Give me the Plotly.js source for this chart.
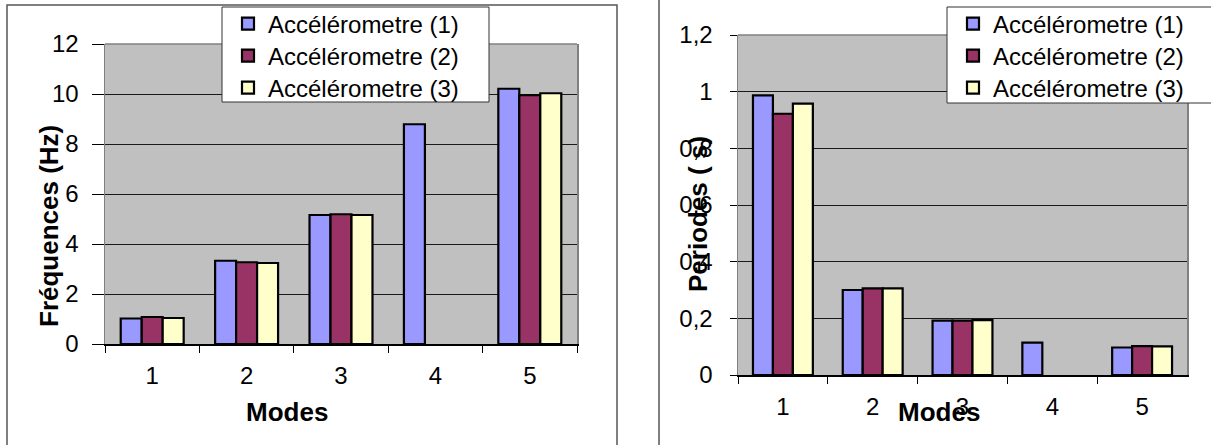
<!DOCTYPE html>
<html>
<head>
<meta charset="utf-8">
<script src="https://cdn.plot.ly/plotly-3.0.1.min.js"></script>
<style>html,body{margin:0;padding:0;background:#fff;}#chart{width:1211px;height:445px;}</style>
</head>
<body>
<div id="chart"></div>
<script>
// ---- data ----
const modes = ["1", "2", "3", "4", "5"];
const seriesNames = ["Accélérometre (1)", "Accélérometre (2)", "Accélérometre (3)"];
const freqAcc1 = [1.02, 3.33, 5.16, 8.79, 10.21];
const freqAcc2 = [1.08, 3.27, 5.19, null, 9.95];
const freqAcc3 = [1.04, 3.24, 5.16, null, 10.03];
const perAcc1 = [0.987, 0.300, 0.192, 0.114, 0.097];
const perAcc2 = [0.922, 0.306, 0.192, null, 0.102];
const perAcc3 = [0.958, 0.306, 0.194, null, 0.101];
const freqTicks = [0, 2, 4, 6, 8, 10, 12];
const perTicks = [0, 0.2, 0.4, 0.6, 0.8, 1, 1.2];
const leftYTitle = "Fréquences (Hz)";
const rightYTitle = "Periodes ( s)";
const xTitle = "Modes";

const colors = ["#9999FF", "#993366", "#FFFFCC"];
const W = 1211, H = 445;
const px = v => v / W;
const py = v => 1 - v / H;
const FONT = "Liberation Sans, Arial, sans-serif";

const freqSeries = [freqAcc1, freqAcc2, freqAcc3];
const perSeries = [perAcc1, perAcc2, perAcc3];
const rowY = [24, 56, 88];
const traces = [];
const legends = {};
function legendName(k) { return k === 0 ? "legend" : "legend" + (k + 1); }
function mkLegend(xLeft, yMid) {
  return {
    x: px(xLeft), y: py(yMid), xanchor: "left", yanchor: "middle",
    bgcolor: "rgba(0,0,0,0)", borderwidth: 0,
    font: {family: FONT, size: 24, color: "#000"},
    itemclick: false, itemdoubleclick: false
  };
}
freqSeries.forEach((vals, i) => {
  const ln = legendName(i);
  legends[ln] = mkLegend(228, rowY[i]);
  traces.push({
    type: "bar", x: modes, y: vals, name: seriesNames[i],
    xaxis: "x", yaxis: "y", legend: ln,
    marker: {color: colors[i], line: {color: "#000", width: 2.2}}
  });
});
perSeries.forEach((vals, i) => {
  const ln = legendName(i + 3);
  legends[ln] = mkLegend(953, rowY[i]);
  traces.push({
    type: "bar", x: modes, y: vals, name: seriesNames[i],
    xaxis: "x2", yaxis: "y2", legend: ln,
    marker: {color: colors[i], line: {color: "#000", width: 2.2}}
  });
});

const xCommon = {
  type: "category", showgrid: false, zeroline: false,
  showline: true, linecolor: "#000", linewidth: 1.5,
  ticks: "outside", tickson: "boundaries", ticklen: 7, tickcolor: "#000", tickwidth: 1,
  ticklabelstandoff: 10,
  tickfont: {family: FONT, size: 24, color: "#000"}, fixedrange: true
};
const yCommon = {
  showgrid: true, gridcolor: "#1a1a1a", gridwidth: 1, zeroline: false,
  showline: true, linecolor: "#808080", linewidth: 1.5, mirror: true,
  ticks: "outside", tickcolor: "#000", tickwidth: 1,
  tickfont: {family: FONT, size: 24, color: "#000"}, fixedrange: true
};

const layout = Object.assign({
  width: W, height: H,
  margin: {l: 0, r: 0, t: 0, b: 0},
  paper_bgcolor: "#fff", plot_bgcolor: "#C0C0C0",
  barmode: "group", bargap: 0.333, bargroupgap: 0,
  separators: ", ",
  showlegend: true,
  font: {family: FONT, color: "#000"},
  xaxis: Object.assign({}, xCommon, {domain: [px(105), px(577)], anchor: "y"}),
  yaxis: Object.assign({}, yCommon, {domain: [py(344), py(44)], anchor: "x",
    range: [0, 12], tickvals: freqTicks, ticklen: 12, ticklabelstandoff: 8}),
  xaxis2: Object.assign({}, xCommon, {domain: [px(738), px(1187)], anchor: "y2"}),
  yaxis2: Object.assign({}, yCommon, {domain: [py(375), py(35)], anchor: "x2",
    range: [0, 1.2], tickvals: perTicks, ticklen: 7, ticklabelstandoff: 12}),
  annotations: [
    {text: "<b>" + leftYTitle + "</b>", xref: "paper", yref: "paper", x: px(49), y: py(226),
     textangle: -90, showarrow: false, xanchor: "center", yanchor: "middle",
     font: {family: FONT, size: 26, color: "#000"}},
    {text: "<b>" + rightYTitle + "</b>", xref: "paper", yref: "paper", x: px(698), y: py(214),
     textangle: -90, showarrow: false, xanchor: "center", yanchor: "middle",
     font: {family: FONT, size: 26, color: "#000"}},
    {text: "<b>" + xTitle + "</b>", xref: "paper", yref: "paper", x: px(287), y: py(412),
     showarrow: false, xanchor: "center", yanchor: "middle",
     font: {family: FONT, size: 26, color: "#000"}},
    {text: "<b>" + xTitle + "</b>", xref: "paper", yref: "paper", x: px(939), y: py(412),
     showarrow: false, xanchor: "center", yanchor: "middle",
     font: {family: FONT, size: 26, color: "#000"}}
  ],
  shapes: [
    {type: "rect", xref: "paper", yref: "paper", x0: px(7), x1: px(617), y0: -0.05, y1: py(5),
     line: {color: "#555", width: 1.5}, layer: "below"},
    {type: "line", xref: "paper", yref: "paper", x0: px(659), x1: px(659), y0: -0.05, y1: 1.05,
     line: {color: "#555", width: 1.5}, layer: "below"},
    {type: "line", xref: "paper", yref: "paper", x0: px(105), x1: px(577), y0: py(44), y1: py(44),
     line: {color: "#808080", width: 1.5}},
    {type: "line", xref: "paper", yref: "paper", x0: px(738), x1: px(1187), y0: py(35), y1: py(35),
     line: {color: "#808080", width: 1.5}},
    {type: "rect", xref: "paper", yref: "paper", x0: px(222), x1: px(489), y0: py(102), y1: py(7),
     fillcolor: "#fff", line: {color: "#333", width: 1}, layer: "above"},
    {type: "rect", xref: "paper", yref: "paper", x0: px(947), x1: px(1220), y0: py(103), y1: py(7),
     fillcolor: "#fff", line: {color: "#333", width: 1}, layer: "above"}
  ]
}, legends);

Plotly.newPlot("chart", traces, layout, {staticPlot: true, displayModeBar: false});
</script>
</body>
</html>
